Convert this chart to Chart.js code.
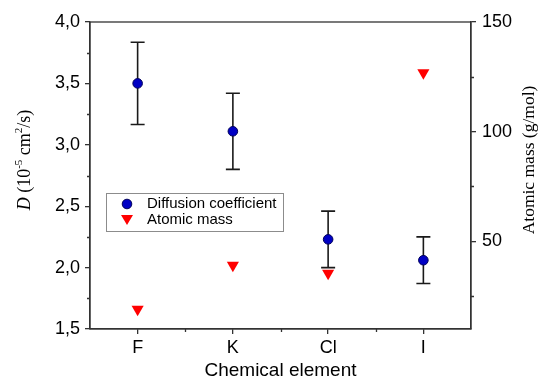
<!DOCTYPE html>
<html>
<head>
<meta charset="utf-8">
<script src="https://cdn.jsdelivr.net/npm/chart.js@4"></script>
<style>
    body { margin: 0; background: #fff; }
    canvas { display: block; }
</style>
</head>
<body>
<canvas id="grafica" width="539" height="382"></canvas>
<script>
//--------Datos
const elementos = ["F", "K", "Cl", "I"]
const difusion = [3.50, 3.11, 2.23, 2.06]        // D (10^-5 cm2/s)
const errorDifusion = [0.335, 0.31, 0.23, 0.19]
const masaAtomica = [19.0, 39.1, 35.45, 126.9]  // g/mol

const ticksD = [1.5, 2.0, 2.5, 3.0, 3.5, 4.0]
const ticksMasa = [50, 100, 150]

const colorPunto = "#0000c4"
const colorTriangulo = "#ff0000"
const colorEje = "#333333"

Chart.defaults.font.family = "'Liberation Sans', Arial, sans-serif"
Chart.defaults.color = "#000"

//--------Plugins propios
// barras de error, detras de los puntos
const pluginErrores = {
    id: "errores",
    beforeDatasetsDraw(chart) {
        const ctx = chart.ctx
        const x = chart.scales.x
        const y = chart.scales.y
        ctx.save()
        ctx.strokeStyle = "#1a1a1a"
        ctx.lineWidth = 1.6
        difusion.forEach((valor, i) => {
            const px = x.getPixelForValue(i)
            const arriba = y.getPixelForValue(valor + errorDifusion[i])
            const abajo = y.getPixelForValue(valor - errorDifusion[i])
            ctx.beginPath()
            ctx.moveTo(px, arriba)
            ctx.lineTo(px, abajo)
            ctx.moveTo(px - 7, arriba)
            ctx.lineTo(px + 7, arriba)
            ctx.moveTo(px - 7, abajo)
            ctx.lineTo(px + 7, abajo)
            ctx.stroke()
        })
        ctx.restore()
    }
}

// marco, ticks menores, titulos de ejes y leyenda
const pluginMarco = {
    id: "marco",
    afterDraw(chart) {
        const ctx = chart.ctx
        const area = chart.chartArea
        const x = chart.scales.x
        const y = chart.scales.y
        const y1 = chart.scales.y1
        ctx.save()

        ctx.strokeStyle = colorEje
        ctx.lineWidth = 1.3
        ctx.strokeRect(area.left, area.top, area.right - area.left, area.bottom - area.top)

        //ticks menores
        ctx.beginPath()
        for (let v = 1.75; v < 4; v += 0.5) {
            const py = Math.round(y.getPixelForValue(v)) + 0.5
            ctx.moveTo(area.left - 3, py)
            ctx.lineTo(area.left, py)
        }
        ;[25, 75, 125].forEach(v => {
            const py = Math.round(y1.getPixelForValue(v)) + 0.5
            ctx.moveTo(area.right, py)
            ctx.lineTo(area.right + 3, py)
        })
        for (let i = 0; i < elementos.length - 1; i++) {
            const px = Math.round((x.getPixelForValue(i) + x.getPixelForValue(i + 1)) / 2) + 0.5
            ctx.moveTo(px, area.bottom)
            ctx.lineTo(px, area.bottom + 3)
        }
        ctx.stroke()

        //titulo eje izquierdo: D (10^-5 cm^2/s)
        const centroY = 160
        ctx.fillStyle = "#000"
        ctx.textBaseline = "middle"
        ctx.translate(25, centroY)
        ctx.rotate(-Math.PI / 2)
        const serif = "'Liberation Serif', 'Times New Roman', serif"
        const partes = [
            { t: "D", f: "italic 18px " + serif, dy: 0 },
            { t: " (10", f: "18px " + serif, dy: 0 },
            { t: "-5", f: "11px " + serif, dy: -6 },
            { t: " cm", f: "18px " + serif, dy: 0 },
            { t: "2", f: "11px " + serif, dy: -6 },
            { t: "/s)", f: "18px " + serif, dy: 0 }
        ]
        let ancho = 0
        partes.forEach(p => { ctx.font = p.f; ancho += ctx.measureText(p.t).width })
        let cx = -ancho / 2
        ctx.textAlign = "left"
        partes.forEach(p => {
            ctx.font = p.f
            ctx.fillText(p.t, cx, p.dy)
            cx += ctx.measureText(p.t).width
        })
        ctx.setTransform(1, 0, 0, 1, 0, 0)

        //titulo eje derecho
        ctx.translate(529, centroY)
        ctx.rotate(-Math.PI / 2)
        ctx.textAlign = "center"
        ctx.font = "17.5px " + serif
        ctx.fillText("Atomic mass (g/mol)", 0, 0)
        ctx.setTransform(1, 0, 0, 1, 0, 0)

        //leyenda
        const lx = area.left + 16
        const ly = area.top + 171
        ctx.strokeStyle = "#8c8c8c"
        ctx.lineWidth = 1
        ctx.strokeRect(lx + 0.5, ly + 0.5, 177, 38)
        ctx.fillStyle = colorPunto
        ctx.strokeStyle = "#00005a"
        ctx.beginPath()
        ctx.arc(lx + 21, ly + 11, 4.8, 0, Math.PI * 2)
        ctx.fill()
        ctx.stroke()
        ctx.fillStyle = colorTriangulo
        ctx.beginPath()
        ctx.moveTo(lx + 15, ly + 22)
        ctx.lineTo(lx + 27, ly + 22)
        ctx.lineTo(lx + 21, ly + 32)
        ctx.closePath()
        ctx.fill()
        ctx.fillStyle = "#000"
        ctx.textAlign = "left"
        ctx.font = "15px 'Liberation Sans', Arial, sans-serif"
        ctx.fillText("Diffusion coefficient", lx + 41, ly + 11)
        ctx.fillText("Atomic mass", lx + 41, ly + 27)

        ctx.restore()
    }
}

//--------Grafica
const formatoComa = v => Number(v).toFixed(1).replace(".", ",")

const ejeComun = {
    grid: { drawOnChartArea: false, color: colorEje, lineWidth: 1.3, tickLength: 5 },
    border: { color: colorEje, width: 1.3 }
}

new Chart(document.getElementById("grafica"), {
    type: "line",
    data: {
        labels: elementos,
        datasets: [{
            label: "Diffusion coefficient",
            data: difusion,
            yAxisID: "y",
            showLine: false,
            pointStyle: "circle",
            pointRadius: 4.8,
            backgroundColor: colorPunto,
            borderColor: "#00005a",
            borderWidth: 1
        }, {
            label: "Atomic mass",
            data: masaAtomica,
            yAxisID: "y1",
            showLine: false,
            pointStyle: "triangle",
            rotation: 180,
            pointRadius: 7,
            backgroundColor: colorTriangulo,
            borderColor: colorTriangulo,
            borderWidth: 0
        }]
    },
    options: {
        responsive: false,
        animation: false,
        layout: { padding: { top: 22 } },
        plugins: {
            legend: { display: false },
            tooltip: { enabled: false }
        },
        scales: {
            x: {
                ...ejeComun,
                offset: true,
                ticks: { font: { size: 18 }, padding: 3 },
                title: { display: true, text: "Chemical element", font: { size: 19 }, padding: { top: 0, bottom: 0 } },
                afterFit: eje => { eje.height = 53 }
            },
            y: {
                ...ejeComun,
                position: "left",
                min: 1.5,
                max: 4.0,
                afterBuildTicks: eje => { eje.ticks = ticksD.map(v => ({ value: v })) },
                ticks: { font: { size: 18 }, padding: 5, callback: formatoComa },
                afterFit: eje => { eje.width = 90 }
            },
            y1: {
                ...ejeComun,
                position: "right",
                min: 10,
                max: 150,
                afterBuildTicks: eje => { eje.ticks = ticksMasa.map(v => ({ value: v })) },
                ticks: { font: { size: 18 }, padding: 6 },
                afterFit: eje => { eje.width = 68 }
            }
        }
    },
    plugins: [pluginErrores, pluginMarco]
})
</script>
</body>
</html>
